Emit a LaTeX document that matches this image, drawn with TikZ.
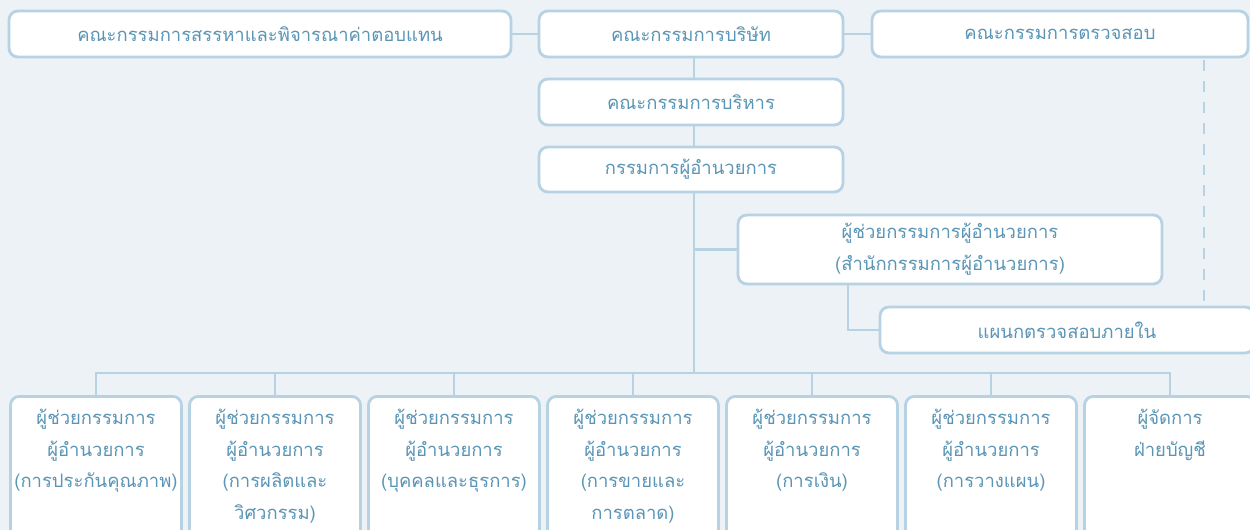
\documentclass[tikz,border=0pt]{standalone}
\usepackage{fontspec}
\newfontfamily\thaifont[Script=Thai]{Loma}
\definecolor{bgblue}{HTML}{EDF2F7}
\definecolor{lineblue}{HTML}{B7D2E2}
\definecolor{txtblue}{HTML}{5A95B6}
\begin{document}
\begin{tikzpicture}[x=0.02cm,y=-0.02cm]
		\tikzstyle{box} = [draw=lineblue, line width=1.6pt, fill=white, rounded corners=5pt, text=txtblue, font=\thaifont\fontsize{10.5}{18}\selectfont, align=center, inner sep=0]
		\tikzstyle{lowtxt} = [anchor=north, yshift=-4.5pt, text=txtblue, font=\thaifont\fontsize{10.5}{18}\selectfont, align=center]
		\tikzstyle{link} = [draw=lineblue, line width=1.3pt]
		\clip (0,0) rectangle (1250,530);
		\fill[bgblue] (0,0) rectangle (1250,530);
		% top row
		\node [box, minimum width=10.04cm, minimum height=0.92cm] (nom) at (260,34) {คณะกรรมการสรรหาและพิจารณาค่าตอบแทน};
		\node [box, minimum width=6.08cm, minimum height=0.92cm] (board) at (691,34) {คณะกรรมการบริษัท};
		\node [box, minimum width=7.52cm, minimum height=0.92cm] (audit) at (1060,34) {คณะกรรมการตรวจสอบ};
		\node [box, minimum width=6.08cm, minimum height=0.92cm] (exe) at (691,102) {คณะกรรมการบริหาร};
		\node [box, minimum width=6.08cm, minimum height=0.9cm] (md) at (691,169.5) {กรรมการผู้อำนวยการ};
		\node [box, minimum width=8.48cm, minimum height=1.38cm] (asst) at (950,249.5) {ผู้ช่วยกรรมการผู้อำนวยการ\\(สำนักกรรมการผู้อำนวยการ)};
		\node [box, minimum width=7.48cm, minimum height=0.92cm] (ia) at (1067,330) {แผนกตรวจสอบภายใน};
		% bottom row
		\foreach \i/\t in {1/{ผู้ช่วยกรรมการ\\ผู้อำนวยการ\\(การประกันคุณภาพ)},
			2/{ผู้ช่วยกรรมการ\\ผู้อำนวยการ\\(การผลิตและ\\วิศวกรรม)},
			3/{ผู้ช่วยกรรมการ\\ผู้อำนวยการ\\(บุคคลและธุรการ)},
			4/{ผู้ช่วยกรรมการ\\ผู้อำนวยการ\\(การขายและ\\การตลาด)},
			5/{ผู้ช่วยกรรมการ\\ผู้อำนวยการ\\(การเงิน)},
			6/{ผู้ช่วยกรรมการ\\ผู้อำนวยการ\\(การวางแผน)},
			7/{ผู้จัดการ\\ฝ่ายบัญชี}}
		{
			\node [box, anchor=north, minimum width=3.42cm, minimum height=3.2cm, label={[lowtxt]north:{\t}}] (b\i) at (96+179*\i-179,395) {};
		}
		% connectors
		\coordinate (bus) at (694,373);
		\coordinate (c1) at (1204,57);
		\coordinate (c2) at (848,0);
		\draw [link] (nom) -- (board);
		\draw [link] (board) -- (audit);
		\draw [link] (board.south -| bus) -- (exe.north -| bus);
		\draw [link] (exe.south -| bus) -- (md.north -| bus);
		\draw [link] (md.south -| bus) -- (bus);
		\draw [link] (asst.west) -- (asst.west -| bus);
		\draw [link] (asst.south -| c2) |- (ia.west);
		\draw [link, dash pattern=on 6.2pt off 5.7pt] (c1) ++(0,3) -- (c1 |- ia.north);
		\draw [link] (b1.north) |- (bus) -| (b7.north);
		\foreach \i in {2,...,6}
		{
			\draw [link] (b\i.north) -- (b\i.north |- bus);
		}
\end{tikzpicture}
\end{document}
